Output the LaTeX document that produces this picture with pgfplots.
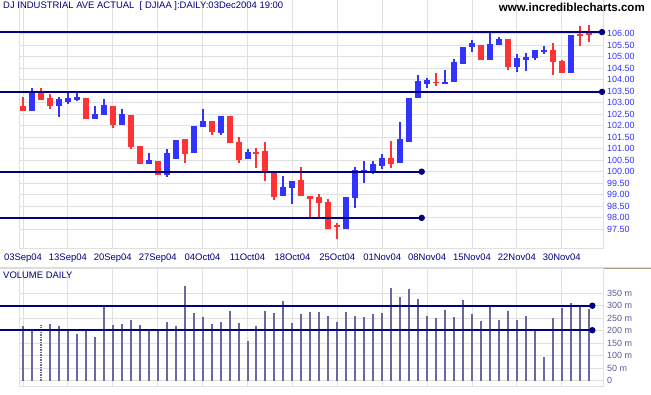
\documentclass[border=0pt]{standalone}
\usepackage{pgfplots}
\pgfplotsset{compat=1.18}
\usepackage{pgfplotstable}
\usepackage{fontspec}
\setmainfont{Liberation Sans}
\definecolor{cred}{RGB}{255,51,51}
\definecolor{cblue}{RGB}{51,51,255}
\definecolor{navyc}{RGB}{0,0,128}
\definecolor{volc}{RGB}{105,105,160}
\definecolor{vlab}{RGB}{90,90,150}
\definecolor{gridc}{RGB}{224,224,224}
\definecolor{bandc}{RGB}{222,220,208}
\definecolor{bandd}{RGB}{168,158,128}

% up days (close > open)
\pgfplotstableread{
i o h l c
1 102.65 103.62 102.65 103.48
4 102.87 103.23 102.39 103.17
5 103.04 103.49 102.94 103.19
6 103.13 103.43 103.09 103.23
8 102.30 102.86 102.30 102.49
9 102.48 103.16 102.48 102.88
11 102.04 102.72 102.04 102.51
14 100.35 100.83 100.35 100.51
16 99.87 100.99 99.78 100.80
17 100.54 101.38 100.54 101.38
19 100.83 101.99 100.83 101.99
20 101.96 102.72 101.96 102.19
22 101.69 102.42 101.60 102.42
25 100.57 100.99 100.57 100.86
29 98.96 99.81 98.96 99.35
30 99.30 99.59 98.61 99.59
36 97.51 98.90 97.51 98.90
37 98.87 100.19 98.43 100.07
38 99.99 100.46 99.51 100.07
39 99.96 100.46 99.91 100.32
40 100.23 100.77 100.13 100.58
42 100.39 102.17 100.39 101.41
43 101.30 103.20 101.30 103.20
44 103.22 104.20 103.22 103.93
45 103.83 104.09 103.65 103.97
47 103.83 104.42 103.83 103.88
48 103.91 104.91 103.91 104.77
49 104.67 105.42 104.67 105.42
50 105.42 105.71 105.22 105.58
52 104.87 106.09 104.87 105.54
53 105.52 105.87 105.52 105.78
55 104.57 105.12 104.33 104.93
56 104.87 105.16 104.38 104.99
57 104.94 105.28 104.87 105.28
58 105.20 105.46 105.12 105.29
61 104.30 105.93 104.30 105.93
}\uptab

% down days (close < open)
\pgfplotstableread{
i o h l c
0 102.86 103.26 102.65 102.65
2 103.48 103.62 103.12 103.12
3 103.19 103.36 102.74 102.87
7 103.20 103.20 102.30 102.30
10 102.86 102.86 101.91 102.04
12 102.46 102.46 101.00 101.09
13 101.12 101.12 100.35 100.35
15 100.46 100.46 99.87 99.87
18 101.42 101.42 100.38 100.78
21 102.19 102.19 101.59 101.72
23 102.42 102.42 101.26 101.26
24 101.30 101.51 100.39 100.51
26 100.86 101.01 100.17 100.77
27 100.90 101.29 99.61 100.00
28 100.03 100.03 98.77 98.91
31 99.64 100.20 98.96 98.96
32 98.94 98.94 98.03 98.83
33 98.91 99.03 98.00 98.62
34 98.68 98.81 97.51 97.51
35 97.67 97.77 97.07 97.58
41 100.61 101.33 100.14 100.35
46 103.91 104.28 103.74 103.84
51 105.49 105.49 104.86 104.86
54 105.77 105.77 104.42 104.55
59 105.28 105.59 104.20 104.75
60 104.80 104.84 104.30 104.30
62 105.97 106.32 105.48 105.88
63 106.09 106.38 105.65 105.93
}\downtab

% daily volume (millions)
\pgfplotstableread{
i v
0 219
1 207
3 227
4 219
5 207
6 187
7 207
8 175
9 299
10 223
11 227
12 243
13 223
14 207
15 203
16 235
17 219
18 379
19 271
20 255
21 227
22 235
23 279
24 231
25 159
26 219
27 279
28 271
29 319
30 231
31 267
32 275
33 275
34 259
35 235
36 275
37 259
38 255
39 267
40 271
41 371
42 335
43 367
44 327
45 259
46 251
47 283
48 255
49 323
50 267
51 239
52 299
53 243
54 279
55 243
56 259
57 207
58 95
59 251
60 291
61 311
62 299
63 287
}\voltab

\pgfplotstableread{
i v
2 223
}\voldot

\pgfplotsset{candle/.style={draw=none, no markers, error bars/y dir=plus, error bars/y explicit, error bars/error mark=none}}

\begin{document}
\begin{tikzpicture}
\useasboundingbox (0bp,0bp) rectangle (651bp,395bp);
\fill[white] (0bp,0bp) rectangle (651bp,395bp);

\begin{axis}[
  at={(19bp,395bp)}, anchor=north west,
  scale only axis, width=584bp, height=248.3bp,
  xmin=-0.4454, xmax=64.588,
  ymin=96.667, ymax=107.465,
  clip=false,
  axis line style={draw=gridc, line width=1bp},
  grid=major,
  major grid style={draw=gridc, line width=1bp},
  major tick length=0pt,
  xtick={0,5,10,15,20,25,30,35,40,45,50,55,60},
  xticklabels={03Sep04,13Sep04,20Sep04,27Sep04,04Oct04,11Oct04,18Oct04,25Oct04,01Nov04,08Nov04,15Nov04,22Nov04,30Nov04},
  xticklabel style={font=\fontsize{9.5}{11}\selectfont, text=navyc, inner sep=0pt, yshift=-5.5bp},
  ytick={97.5,98,98.5,99,99.5,100,100.5,101,101.5,102,102.5,103,103.5,104,104.5,105,105.5,106},
  yticklabels={97.50,98.00,98.50,99.00,99.50,100.00,100.50,101.00,101.50,102.00,102.50,103.00,103.50,104.00,104.50,105.00,105.50,106.00},
  yticklabel pos=right,
  yticklabel style={font=\fontsize{9}{11}\selectfont, text=cblue, inner sep=0pt, anchor=west, xshift=4bp},
]
% wicks
\addplot[candle, error bars/error bar style={line width=2bp, draw=cblue}]
  table[x=i, y=l, y error plus expr=\thisrow{h}-\thisrow{l}] {\uptab};
\addplot[candle, error bars/error bar style={line width=2bp, draw=cred}]
  table[x=i, y=l, y error plus expr=\thisrow{h}-\thisrow{l}] {\downtab};
% bodies
\addplot[candle, error bars/error bar style={line width=6bp, draw=cblue}]
  table[x=i, y=o, y error plus expr=\thisrow{c}-\thisrow{o}] {\uptab};
\addplot[candle, error bars/error bar style={line width=6bp, draw=cred}]
  table[x=i, y=c, y error plus expr=\thisrow{o}-\thisrow{c}] {\downtab};
% trend lines
\addplot[navyc, line width=1.7bp, mark=*, mark size=2.3bp, mark indices={2}] coordinates {(-2.561,106.07) (64.48,106.07)};
\addplot[navyc, line width=1.7bp, mark=*, mark size=2.3bp, mark indices={2}] coordinates {(-2.561,103.47) (64.48,103.47)};
\addplot[navyc, line width=1.7bp, mark=*, mark size=2.3bp, mark indices={2}] coordinates {(-2.561,100.0) (44.4,100.0)};
\addplot[navyc, line width=1.7bp, mark=*, mark size=2.3bp, mark indices={2}] coordinates {(-2.561,97.99) (44.4,97.99)};
\end{axis}

\fill[bandc] (0bp,125.8bp) rectangle (651bp,128.2bp);
\fill[bandd] (603bp,125.8bp) rectangle (651bp,127bp);

\begin{axis}[
  at={(19bp,126bp)}, anchor=north west,
  scale only axis, width=584bp, height=117.7bp,
  xmin=-0.4454, xmax=64.588,
  ymin=-24, ymax=446.8,
  clip=false,
  axis line style={draw=gridc, line width=1bp},
  grid=major,
  major grid style={draw=gridc, line width=1bp},
  major tick length=0pt,
  xtick={0,5,10,15,20,25,30,35,40,45,50,55,60},
  xticklabels={},
  ytick={0,50,100,150,200,250,300,350},
  yticklabels={0,50 m,100 m,150 m,200 m,250 m,300 m,350 m},
  yticklabel pos=right,
  yticklabel style={font=\fontsize{9}{11}\selectfont, text=vlab, inner sep=0pt, anchor=west, xshift=4bp},
]
\addplot[ycomb, draw=volc, line width=2bp, mark=none] table[x=i, y=v] {\voltab};
\addplot[ycomb, draw=volc, line width=2bp, mark=none, dash pattern=on 1.5bp off 1bp] table[x=i, y=v] {\voldot};
\addplot[navyc, line width=1.7bp, mark=*, mark size=2.3bp, mark indices={2}] coordinates {(-2.561,300) (63.4,300)};
\addplot[navyc, line width=1.7bp, mark=*, mark size=2.3bp, mark indices={2}] coordinates {(-2.561,202) (63.4,202)};
\end{axis}

\node[anchor=west, inner sep=0pt, text=navyc, font=\fontsize{9.5}{11}\selectfont] at (3bp,389bp) {DJ INDUSTRIAL AVE ACTUAL\ \ [ DJIAA ]:DAILY:03Dec2004 19:00};
\node[anchor=east, inner sep=0pt, font=\bfseries\fontsize{11.6}{13}\selectfont] at (645bp,388bp) {www.incrediblecharts.com};
\node[anchor=west, inner sep=0pt, text=navyc, font=\fontsize{9.5}{11}\selectfont] at (3bp,120bp) {VOLUME DAILY};
\end{tikzpicture}
\end{document}
